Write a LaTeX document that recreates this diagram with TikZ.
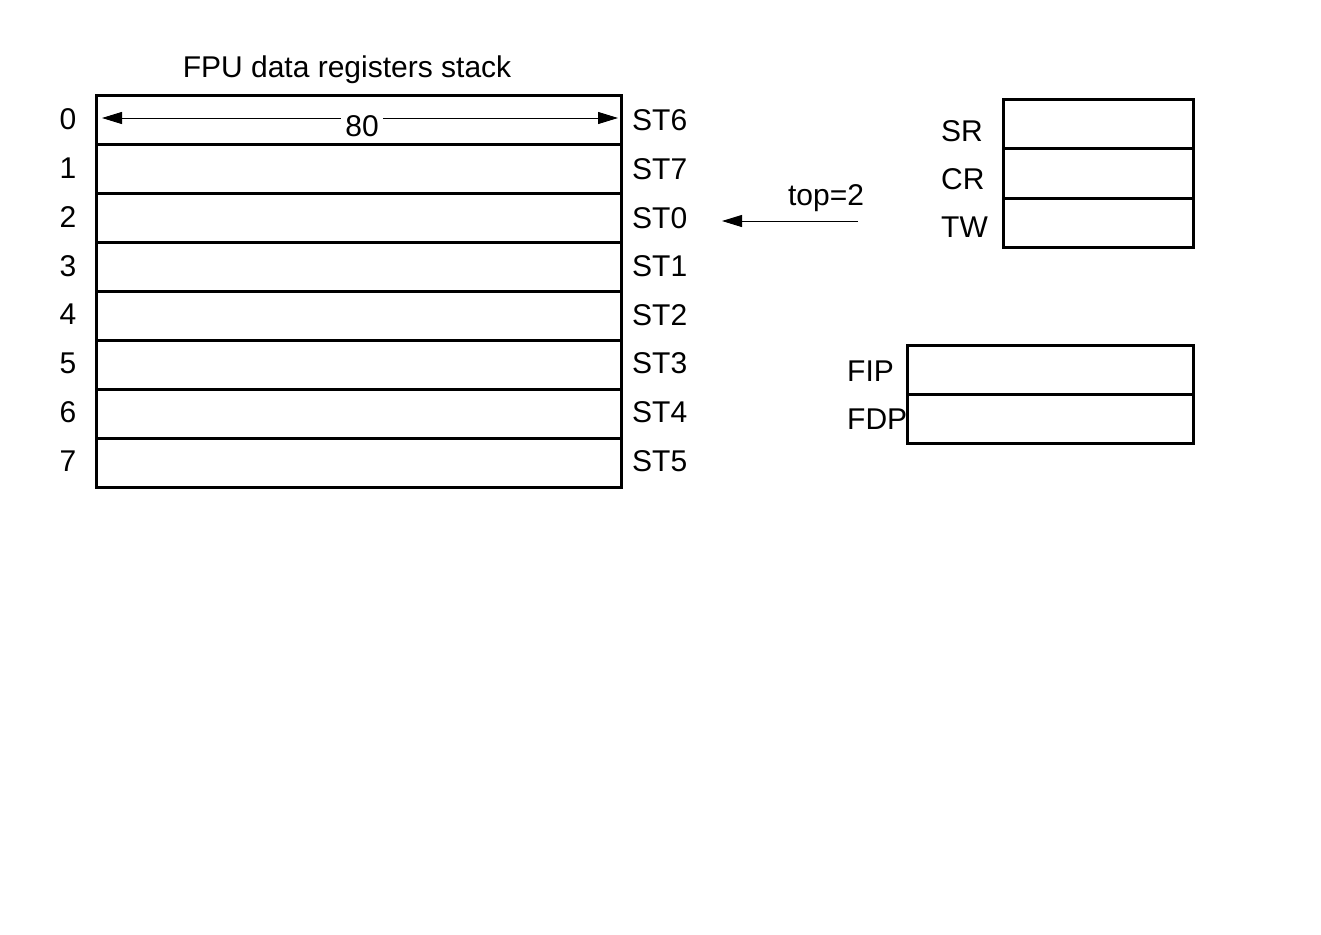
\documentclass[tikz,border=0pt]{standalone}
\usepackage{fontspec}
\setmainfont{Liberation Sans}
\usetikzlibrary{arrows.meta}
\begin{document}
\begin{tikzpicture}[x=1pt,y=-1pt,
  lbl/.style={font=\fontsize{30}{36}\selectfont,inner sep=0pt},
  thinarrow/.style={line width=1pt,-{Triangle[length=20pt,width=12pt]}}]
\useasboundingbox (0,0) rectangle (1321,934);
\node[lbl] (title) at (347,69.5) {FPU data registers stack};
% stack
\foreach \i/\s in {0/ST6,1/ST7,2/ST0,3/ST1,4/ST2,5/ST3,6/ST4,7/ST5}{
  \node[draw,line width=3pt,minimum width=525pt,minimum height=49pt,inner sep=0pt,anchor=north west] (r\i) at (95,{94+49*\i}) {};
  \node[lbl,anchor=center] (n\i) at (68,{119+48.9*\i}) {\i};
  \node[lbl,anchor=west] (s\i) at (632,{120.5+48.6*\i}) {\s};
}
\coordinate (al) at (102,118);
\coordinate (ar) at (618,118);
\draw[line width=1pt,{Triangle[length=20pt,width=12pt]}-{Triangle[length=20pt,width=12pt]}] (al) -- (ar);
\node[lbl,fill=white,inner xsep=4pt,inner ysep=2pt] (w) at (362,126) {80};
% top arrow
\coordinate (ts) at (858,221);
\coordinate (te) at (722,221);
\draw[thinarrow] (ts) -- (te);
\node[lbl] (top) at (826,198) {top=2};
% SR CR TW
\foreach \i/\s in {0/SR,1/CR,2/TW}{
  \node[draw,line width=3pt,minimum width=190pt,minimum height=49.3pt,inner sep=0pt,anchor=north west] (c\i) at (1002,{98+49.3*\i}) {};
  \node[lbl,anchor=west] (cl\i) at (941,{131+48*\i}) {\s};
}
% FIP FDP
\foreach \i/\s in {0/FIP,1/FDP}{
  \node[draw,line width=3pt,minimum width=286pt,minimum height=49pt,inner sep=0pt,anchor=north west] (f\i) at (906,{344+49*\i}) {};
  \node[lbl,anchor=west] (fl\i) at (847,{371+48*\i}) {\s};
}
\end{tikzpicture}
\end{document}
